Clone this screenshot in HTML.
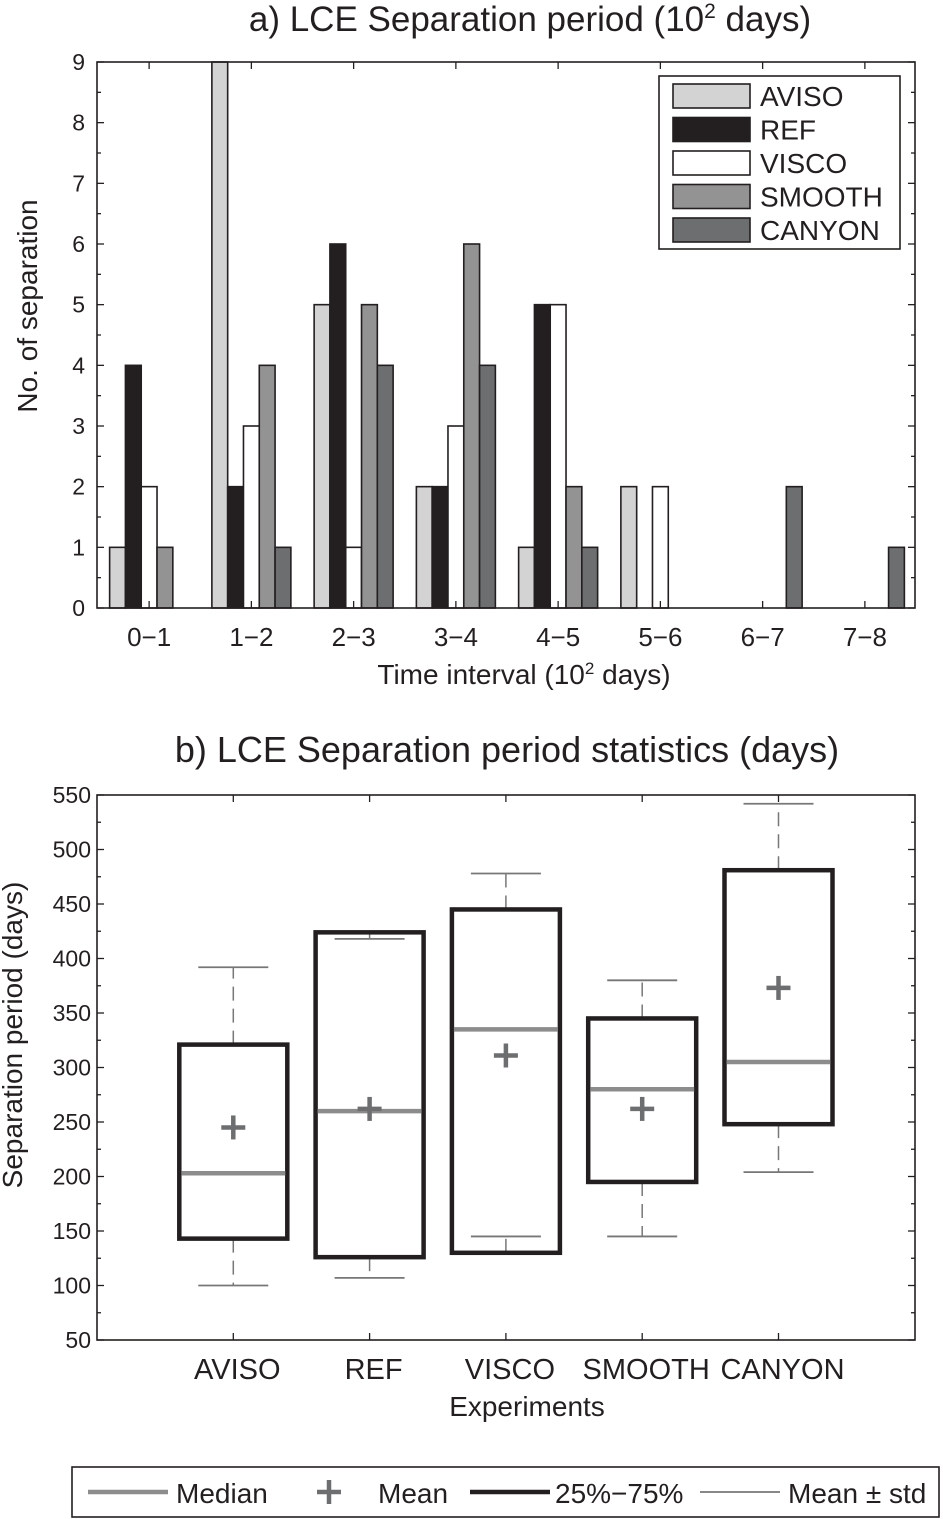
<!DOCTYPE html>
<html><head><meta charset="utf-8"><style>
html,body{margin:0;padding:0;background:#fff}
svg{display:block;font-family:"Liberation Sans",sans-serif}
</style></head><body>
<svg id="s" width="943" height="1519" viewBox="0 0 943 1519">
<g id="ga"></g>
<g id="gb"></g>
</svg>
<script>
const histCats=["0\u22121","1\u22122","2\u22123","3\u22124","4\u22125","5\u22126","6\u22127","7\u22128"];
const seriesNames=["AVISO","REF","VISCO","SMOOTH","CANYON"];
const seriesColors=["#d3d3d3","#231f20","#ffffff","#939393","#6d6e70"];
const aviso=[1,9,5,2,1,2,0,0];
const ref=[4,2,6,2,5,0,0,0];
const visco=[2,3,1,3,5,2,0,0];
const smooth=[1,4,5,6,2,0,0,0];
const canyon=[0,1,4,4,1,0,2,1];
const histYTicks=[0,1,2,3,4,5,6,7,8,9];

const expCats=["AVISO","REF","VISCO","SMOOTH","CANYON"];
const q1=[143,126,130,195,248];
const q3=[321,424,445,345,481];
const median=[203,260,335,280,305];
const mean=[245,262,311,262,373];
const wLow=[100,107,145,145,204];
const wHigh=[392,418,478,380,542];
const boxYTicks=[50,100,150,200,250,300,350,400,450,500,550];

const NS="http://www.w3.org/2000/svg";
function mk(parent,tag,attrs,text){const e=document.createElementNS(NS,tag);for(const k in attrs)e.setAttribute(k,attrs[k]);if(text!==undefined)e.textContent=text;parent.appendChild(e);return e;}

// ---- Chart a
const ga=document.getElementById('ga');
const aL=97,aR=915,aT=62,aB=608;
const ay=v=>aB-(v/9)*(aB-aT);
const groupW=(aR-aL)/8;
const ax=i=>aL+groupW*(i+0.5)+1;
const barW=15.8;
const allSeries=[aviso,ref,visco,smooth,canyon];
allSeries.forEach((arr,s)=>{
  arr.forEach((v,i)=>{
    const x=ax(i)-2.5*barW+s*barW;
    const r=mk(ga,'rect',{x:x,y:ay(v),width:barW,height:Math.max(0,aB-ay(v)),fill:seriesColors[s],stroke:'#231f20','stroke-width':1.6});
    
    
  });
});
mk(ga,'rect',{x:aL,y:aT,width:aR-aL,height:aB-aT,fill:'none',stroke:'#231f20','stroke-width':1.6,});
for(let v=0;v<=9;v+=0.5){
  const len=(v%1===0)?7:4;
  mk(ga,'line',{x1:aL,x2:aL+len,y1:ay(v),y2:ay(v),stroke:'#231f20','stroke-width':1.3});
  mk(ga,'line',{x1:aR,x2:aR-len,y1:ay(v),y2:ay(v),stroke:'#231f20','stroke-width':1.3});
}
histYTicks.forEach(v=>{
  const t=mk(ga,'text',{x:aL-12,y:ay(v)+8,'text-anchor':'end','font-size':23,fill:'#231f20'},String(v));
  
});
histCats.forEach((c,i)=>{
  mk(ga,'line',{x1:ax(i),x2:ax(i),y1:aB,y2:aB-7,stroke:'#231f20','stroke-width':1.3});
  mk(ga,'line',{x1:ax(i),x2:ax(i),y1:aT,y2:aT+7,stroke:'#231f20','stroke-width':1.3});
  const t=mk(ga,'text',{x:ax(i),y:646,'text-anchor':'middle','font-size':26,fill:'#231f20'},c);
  
});
let tt=mk(ga,'text',{x:530,y:31,'text-anchor':'middle','font-size':35,fill:'#231f20',});
tt.innerHTML='a) LCE Separation period (10<tspan font-size="21" dy="-13">2</tspan><tspan dy="13"> days)</tspan>';
tt=mk(ga,'text',{x:524,y:684,'text-anchor':'middle','font-size':28,fill:'#231f20',});
tt.innerHTML='Time interval (10<tspan font-size="17" dy="-10">2</tspan><tspan dy="10"> days)</tspan>';
mk(ga,'text',{x:0,y:0,transform:'translate(37,306) rotate(-90)','text-anchor':'middle','font-size':28,fill:'#231f20',},'No. of separation');
// legend a
const lg=mk(ga,'g',{});
mk(lg,'rect',{x:659,y:76,width:241,height:173,fill:'#fff',stroke:'#231f20','stroke-width':1.6});
seriesNames.forEach((n,s)=>{
  const y=84+s*33.5;
  const e=mk(lg,'g',{});
  mk(e,'rect',{x:673,y:y,width:77,height:24,fill:seriesColors[s],stroke:'#231f20','stroke-width':1.6});
  mk(e,'text',{x:760,y:y+22,'font-size':28,fill:'#231f20'},n);
});

// ---- Chart b
const gb=document.getElementById('gb');
const bL=97,bR=915,bT=795,bB=1340;
const by=v=>bB-(v-50)/500*(bB-bT);
const bx=i=>bL+136.3*(i+1);
mk(gb,'rect',{x:bL,y:bT,width:bR-bL,height:bB-bT,fill:'none',stroke:'#231f20','stroke-width':1.6,});
for(let v=50;v<=550;v+=25){
  const len=(v%50===0)?7:4;
  mk(gb,'line',{x1:bL,x2:bL+len,y1:by(v),y2:by(v),stroke:'#231f20','stroke-width':1.3});
  mk(gb,'line',{x1:bR,x2:bR-len,y1:by(v),y2:by(v),stroke:'#231f20','stroke-width':1.3});
}
boxYTicks.forEach(v=>{
  const t=mk(gb,'text',{x:bL-6,y:by(v)+8,'text-anchor':'end','font-size':23,fill:'#231f20'},String(v));
  
});
expCats.forEach((c,i)=>{
  const x=bx(i);
  mk(gb,'line',{x1:x,x2:x,y1:bB,y2:bB-7,stroke:'#231f20','stroke-width':1.3});
  mk(gb,'line',{x1:x,x2:x,y1:bT,y2:bT+7,stroke:'#231f20','stroke-width':1.3});
  const t=mk(gb,'text',{x:x+4,y:1379,'text-anchor':'middle','font-size':29,fill:'#231f20'},c);
  
  const g=mk(gb,'g',{});
  
  
  mk(g,'line',{x1:x,x2:x,y1:by(q3[i]),y2:by(wHigh[i]),stroke:'#777','stroke-width':1.5,'stroke-dasharray':'14,8'});
  mk(g,'line',{x1:x,x2:x,y1:by(q1[i]),y2:by(wLow[i]),stroke:'#777','stroke-width':1.5,'stroke-dasharray':'14,8'});
  mk(g,'line',{x1:x-35,x2:x+35,y1:by(wHigh[i]),y2:by(wHigh[i]),stroke:'#777','stroke-width':1.8});
  mk(g,'line',{x1:x-35,x2:x+35,y1:by(wLow[i]),y2:by(wLow[i]),stroke:'#777','stroke-width':1.8});
  mk(g,'rect',{x:x-54,y:by(q3[i]),width:108,height:by(q1[i])-by(q3[i]),fill:'none',stroke:'#231f20','stroke-width':4.5});
  mk(g,'line',{x1:x-52,x2:x+52,y1:by(median[i]),y2:by(median[i]),stroke:'#8c8c8c','stroke-width':4.5});
  mk(g,'line',{x1:x-12,x2:x+12,y1:by(mean[i]),y2:by(mean[i]),stroke:'#6d6e70','stroke-width':4.5});
  mk(g,'line',{x1:x,x2:x,y1:by(mean[i])-12,y2:by(mean[i])+12,stroke:'#6d6e70','stroke-width':4.5});
});
mk(gb,'text',{x:507,y:762,'text-anchor':'middle','font-size':36,fill:'#231f20',},'b) LCE Separation period statistics (days)');
mk(gb,'text',{x:527,y:1416,'text-anchor':'middle','font-size':28,fill:'#231f20',},'Experiments');
mk(gb,'text',{x:0,y:0,transform:'translate(22,1035) rotate(-90)','text-anchor':'middle','font-size':28,fill:'#231f20',},'Separation period (days)');
const lb=mk(gb,'g',{});
mk(lb,'rect',{x:72,y:1467,width:867,height:50,fill:'#fff',stroke:'#231f20','stroke-width':1.6});
mk(lb,'line',{x1:88,x2:168,y1:1492,y2:1492,stroke:'#8c8c8c','stroke-width':4.5});
mk(lb,'text',{x:176,y:1503,'font-size':28,fill:'#231f20'},'Median');
mk(lb,'line',{x1:317,x2:341,y1:1492,y2:1492,stroke:'#6d6e70','stroke-width':4.5});
mk(lb,'line',{x1:329,x2:329,y1:1480,y2:1504,stroke:'#6d6e70','stroke-width':4.5});
mk(lb,'text',{x:378,y:1503,'font-size':28,fill:'#231f20'},'Mean');
mk(lb,'line',{x1:470,x2:550,y1:1492,y2:1492,stroke:'#231f20','stroke-width':4.5});
mk(lb,'text',{x:555,y:1503,'font-size':28,fill:'#231f20'},'25%\u221275%');
mk(lb,'line',{x1:700,x2:780,y1:1492,y2:1492,stroke:'#777','stroke-width':1.8});
mk(lb,'text',{x:788,y:1503,'font-size':28,fill:'#231f20'},'Mean \u00b1 std');
</script>
</body></html>
